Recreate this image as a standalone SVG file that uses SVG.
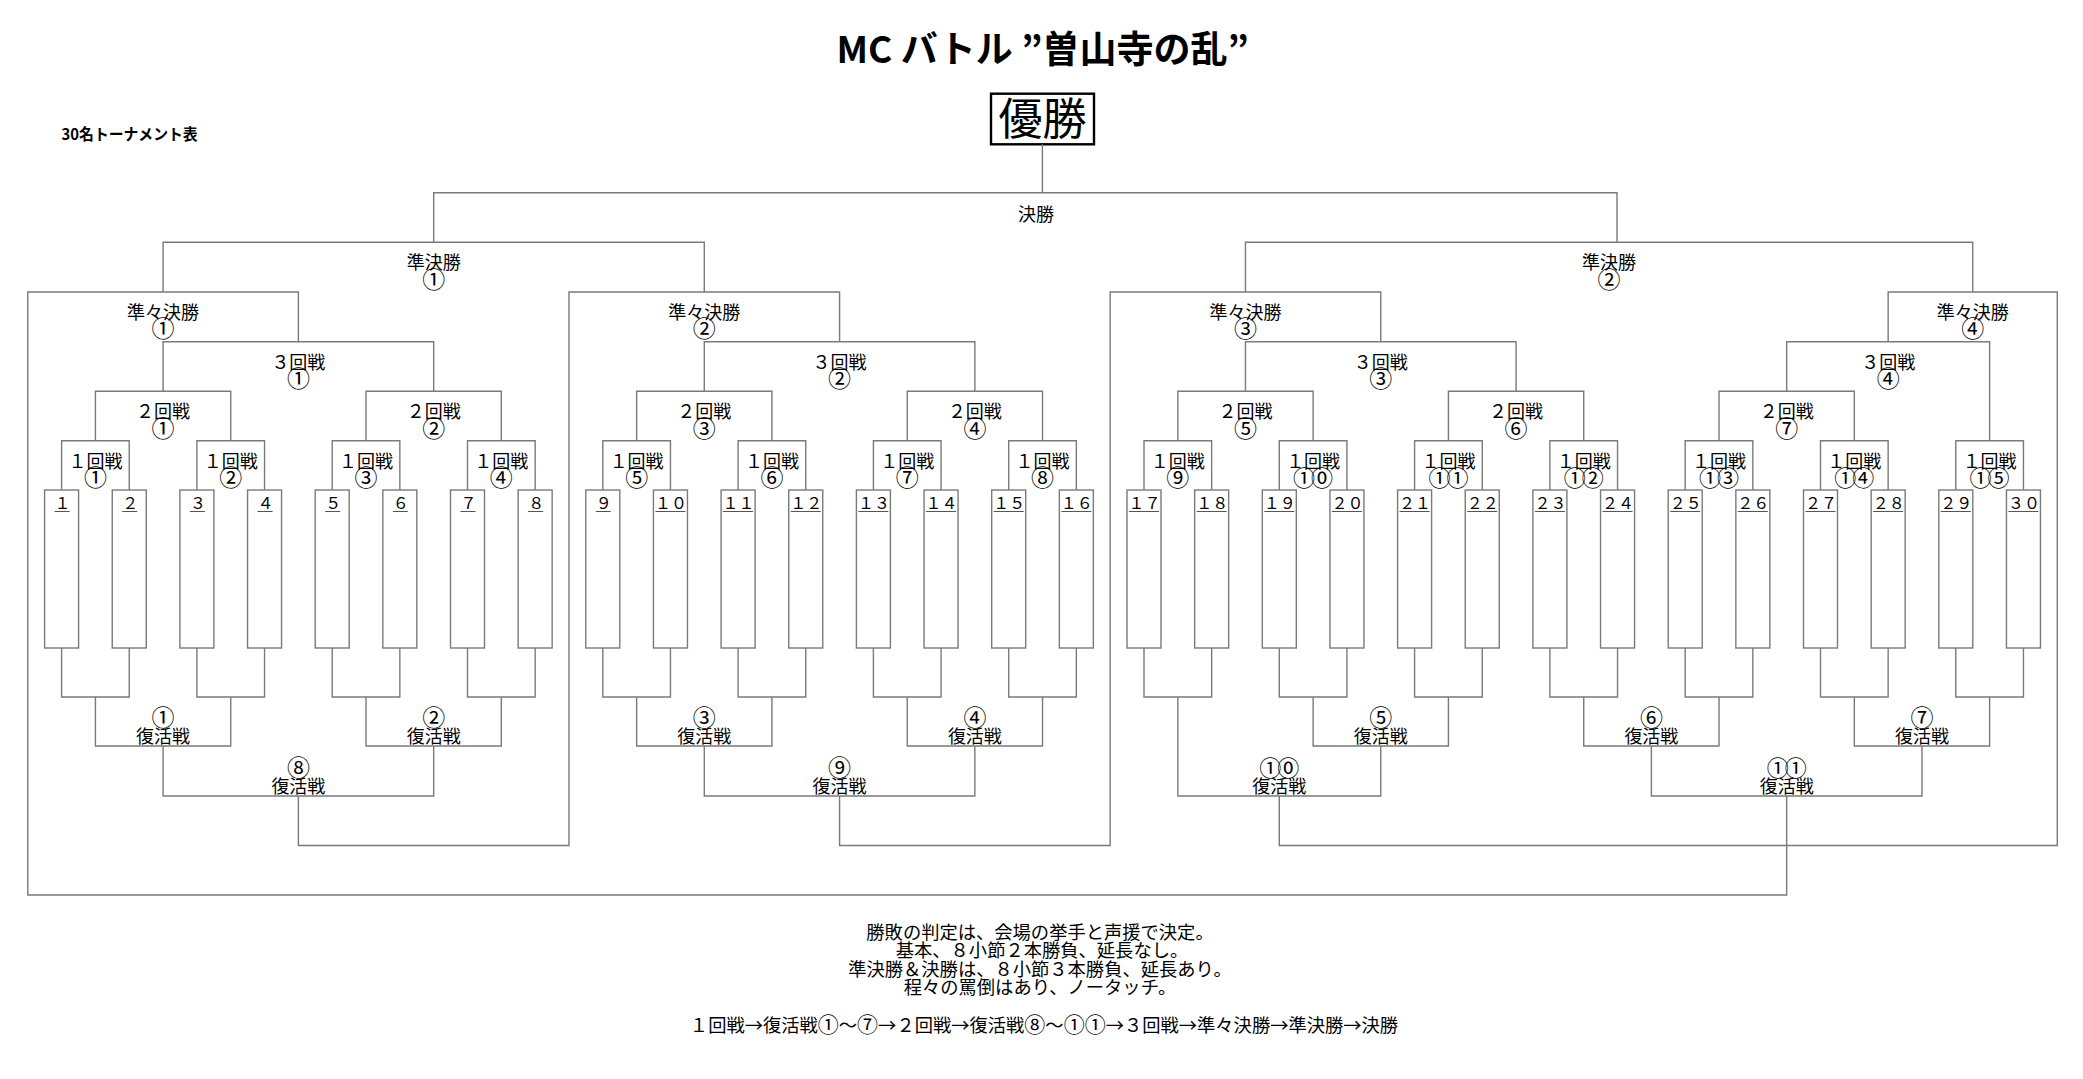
<svg xmlns="http://www.w3.org/2000/svg" width="2083" height="1079" viewBox="0 0 2083 1079">
<style>
.ln{fill:none;stroke:#7a7a7a;stroke-width:1.4}
.box{fill:#fff;stroke:#7a7a7a;stroke-width:1.4}
.ul{stroke:#555;stroke-width:1}
text{font-family:"Noto Sans CJK JP","Noto Sans",sans-serif;fill:#000}
.lb{font-size:18px;text-anchor:middle}
.cn{font-size:23px}
.cd{font-size:22px;letter-spacing:-4px}
.cs{font-size:21px}
.num{font-size:16px;text-anchor:middle}
.note{font-size:18.3px;text-anchor:middle}
</style>
<rect width="2083" height="1079" fill="#fff"/>
<g id="title"><text x="1042.6" y="63" font-size="37" font-weight="700" text-anchor="middle">MC バトル ”曽山寺の乱”</text></g>
<g id="subtitle"><text x="61.6" y="140" font-size="15.5" font-weight="700" textLength="136" lengthAdjust="spacingAndGlyphs">30名トーナメント表</text></g>
<g id="champion"><rect x="991" y="93.7" width="103" height="50.6" fill="#fff" stroke="#000" stroke-width="2.4"/><text x="1042.5" y="135" font-size="44" text-anchor="middle">優勝</text></g>

<g id="connectors" class="ln">
<path d="M61.6 490V440.7H129.25V490M196.9 490V440.7H264.55V490M332.2 490V440.7H399.85V490M467.5 490V440.7H535.15V490M602.8 490V440.7H670.45V490M738.1 490V440.7H805.75V490M873.4 490V440.7H941.05V490M1008.7 490V440.7H1076.35V490M1144 490V440.7H1211.65V490M1279.3 490V440.7H1346.95V490M1414.6 490V440.7H1482.25V490M1549.9 490V440.7H1617.55V490M1685.2 490V440.7H1752.85V490M1820.5 490V440.7H1888.15V490M1955.8 490V440.7H2023.45V490"/>
<path d="M95.43 440.7V391.3H230.73V440.7M366.03 440.7V391.3H501.33V440.7M636.63 440.7V391.3H771.93V440.7M907.23 440.7V391.3H1042.53V440.7M1177.83 440.7V391.3H1313.13V440.7M1448.43 440.7V391.3H1583.73V440.7M1719.03 440.7V391.3H1854.33V440.7"/>
<path d="M163.08 391.3V341.7H433.68V391.3M704.28 391.3V341.7H974.88V391.3M1245.48 391.3V341.7H1516.08V391.3M1786.68 391.3V341.7H1989.63V440.7"/>
<path d="M1786.68 796V895H27.8V292H298.38V341.7"/>
<path d="M298.38 796V845.5H568.97V292H839.58V341.7"/>
<path d="M839.58 796V845.5H1110.17V292H1380.78V341.7"/>
<path d="M1279.3 796V845.5H2057.28V292H1888.16V341.7"/>
<path d="M163.09 292V242.3H704.28V292M1245.48 292V242.3H1972.72V292"/>
<path d="M433.68 242.3V192.7H1617V242.3M1042.4 144.3V192.7"/>
<path d="M61.6 648V697H129.25V648M196.9 648V697H264.55V648M332.2 648V697H399.85V648M467.5 648V697H535.15V648M602.8 648V697H670.45V648M738.1 648V697H805.75V648M873.4 648V697H941.05V648M1008.7 648V697H1076.35V648M1144 648V697H1211.65V648M1279.3 648V697H1346.95V648M1414.6 648V697H1482.25V648M1549.9 648V697H1617.55V648M1685.2 648V697H1752.85V648M1820.5 648V697H1888.15V648M1955.8 648V697H2023.45V648"/>
<path d="M95.43 697V746H230.73V697M366.03 697V746H501.33V697M636.63 697V746H771.93V697M907.23 697V746H1042.53V697M1313.13 697V746H1448.43V697M1583.73 697V746H1719.03V697M1854.33 697V746H1989.63V697"/>
<path d="M163.08 746V796H433.68V746M704.28 746V796H974.88V746M1177.83 697V796H1380.78V746M1651.38 746V796H1921.98V746"/>
</g>

<g id="players">
<g id="p1"><rect class="box" x="44.6" y="490" width="34" height="158"/><text class="num" x="62.6" y="508.5">１</text><line class="ul" x1="54.6" y1="511.5" x2="69.6" y2="511.5"/></g>
<g id="p2"><rect class="box" x="112.25" y="490" width="34" height="158"/><text class="num" x="130.25" y="508.5">２</text><line class="ul" x1="122.25" y1="511.5" x2="137.25" y2="511.5"/></g>
<g id="p3"><rect class="box" x="179.9" y="490" width="34" height="158"/><text class="num" x="197.9" y="508.5">３</text><line class="ul" x1="189.9" y1="511.5" x2="204.9" y2="511.5"/></g>
<g id="p4"><rect class="box" x="247.55" y="490" width="34" height="158"/><text class="num" x="265.55" y="508.5">４</text><line class="ul" x1="257.55" y1="511.5" x2="272.55" y2="511.5"/></g>
<g id="p5"><rect class="box" x="315.2" y="490" width="34" height="158"/><text class="num" x="333.2" y="508.5">５</text><line class="ul" x1="325.2" y1="511.5" x2="340.2" y2="511.5"/></g>
<g id="p6"><rect class="box" x="382.85" y="490" width="34" height="158"/><text class="num" x="400.85" y="508.5">６</text><line class="ul" x1="392.85" y1="511.5" x2="407.85" y2="511.5"/></g>
<g id="p7"><rect class="box" x="450.5" y="490" width="34" height="158"/><text class="num" x="468.5" y="508.5">７</text><line class="ul" x1="460.5" y1="511.5" x2="475.5" y2="511.5"/></g>
<g id="p8"><rect class="box" x="518.15" y="490" width="34" height="158"/><text class="num" x="536.15" y="508.5">８</text><line class="ul" x1="528.15" y1="511.5" x2="543.15" y2="511.5"/></g>
<g id="p9"><rect class="box" x="585.8" y="490" width="34" height="158"/><text class="num" x="603.8" y="508.5">９</text><line class="ul" x1="595.8" y1="511.5" x2="610.8" y2="511.5"/></g>
<g id="p10"><rect class="box" x="653.45" y="490" width="34" height="158"/><text class="num" x="670.95" y="508.5">１０</text><line class="ul" x1="655.45" y1="511.5" x2="685.45" y2="511.5"/></g>
<g id="p11"><rect class="box" x="721.1" y="490" width="34" height="158"/><text class="num" x="738.6" y="508.5">１１</text><line class="ul" x1="723.1" y1="511.5" x2="753.1" y2="511.5"/></g>
<g id="p12"><rect class="box" x="788.75" y="490" width="34" height="158"/><text class="num" x="806.25" y="508.5">１２</text><line class="ul" x1="790.75" y1="511.5" x2="820.75" y2="511.5"/></g>
<g id="p13"><rect class="box" x="856.4" y="490" width="34" height="158"/><text class="num" x="873.9" y="508.5">１３</text><line class="ul" x1="858.4" y1="511.5" x2="888.4" y2="511.5"/></g>
<g id="p14"><rect class="box" x="924.05" y="490" width="34" height="158"/><text class="num" x="941.55" y="508.5">１４</text><line class="ul" x1="926.05" y1="511.5" x2="956.05" y2="511.5"/></g>
<g id="p15"><rect class="box" x="991.7" y="490" width="34" height="158"/><text class="num" x="1009.2" y="508.5">１５</text><line class="ul" x1="993.7" y1="511.5" x2="1023.7" y2="511.5"/></g>
<g id="p16"><rect class="box" x="1059.35" y="490" width="34" height="158"/><text class="num" x="1076.85" y="508.5">１６</text><line class="ul" x1="1061.35" y1="511.5" x2="1091.35" y2="511.5"/></g>
<g id="p17"><rect class="box" x="1127" y="490" width="34" height="158"/><text class="num" x="1144.5" y="508.5">１７</text><line class="ul" x1="1129" y1="511.5" x2="1159" y2="511.5"/></g>
<g id="p18"><rect class="box" x="1194.65" y="490" width="34" height="158"/><text class="num" x="1212.15" y="508.5">１８</text><line class="ul" x1="1196.65" y1="511.5" x2="1226.65" y2="511.5"/></g>
<g id="p19"><rect class="box" x="1262.3" y="490" width="34" height="158"/><text class="num" x="1279.8" y="508.5">１９</text><line class="ul" x1="1264.3" y1="511.5" x2="1294.3" y2="511.5"/></g>
<g id="p20"><rect class="box" x="1329.95" y="490" width="34" height="158"/><text class="num" x="1347.45" y="508.5">２０</text><line class="ul" x1="1331.95" y1="511.5" x2="1361.95" y2="511.5"/></g>
<g id="p21"><rect class="box" x="1397.6" y="490" width="34" height="158"/><text class="num" x="1415.1" y="508.5">２１</text><line class="ul" x1="1399.6" y1="511.5" x2="1429.6" y2="511.5"/></g>
<g id="p22"><rect class="box" x="1465.25" y="490" width="34" height="158"/><text class="num" x="1482.75" y="508.5">２２</text><line class="ul" x1="1467.25" y1="511.5" x2="1497.25" y2="511.5"/></g>
<g id="p23"><rect class="box" x="1532.9" y="490" width="34" height="158"/><text class="num" x="1550.4" y="508.5">２３</text><line class="ul" x1="1534.9" y1="511.5" x2="1564.9" y2="511.5"/></g>
<g id="p24"><rect class="box" x="1600.55" y="490" width="34" height="158"/><text class="num" x="1618.05" y="508.5">２４</text><line class="ul" x1="1602.55" y1="511.5" x2="1632.55" y2="511.5"/></g>
<g id="p25"><rect class="box" x="1668.2" y="490" width="34" height="158"/><text class="num" x="1685.7" y="508.5">２５</text><line class="ul" x1="1670.2" y1="511.5" x2="1700.2" y2="511.5"/></g>
<g id="p26"><rect class="box" x="1735.85" y="490" width="34" height="158"/><text class="num" x="1753.35" y="508.5">２６</text><line class="ul" x1="1737.85" y1="511.5" x2="1767.85" y2="511.5"/></g>
<g id="p27"><rect class="box" x="1803.5" y="490" width="34" height="158"/><text class="num" x="1821" y="508.5">２７</text><line class="ul" x1="1805.5" y1="511.5" x2="1835.5" y2="511.5"/></g>
<g id="p28"><rect class="box" x="1871.15" y="490" width="34" height="158"/><text class="num" x="1888.65" y="508.5">２８</text><line class="ul" x1="1873.15" y1="511.5" x2="1903.15" y2="511.5"/></g>
<g id="p29"><rect class="box" x="1938.8" y="490" width="34" height="158"/><text class="num" x="1956.3" y="508.5">２９</text><line class="ul" x1="1940.8" y1="511.5" x2="1970.8" y2="511.5"/></g>
<g id="p30"><rect class="box" x="2006.45" y="490" width="34" height="158"/><text class="num" x="2023.95" y="508.5">３０</text><line class="ul" x1="2008.45" y1="511.5" x2="2038.45" y2="511.5"/></g>
</g>

<g id="round1">
<g id="r1-1"><text class="lb" x="95.43" y="467.7">１回戦<tspan class="cn" x="95.43" dy="18.3">①</tspan></text></g>
<g id="r1-2"><text class="lb" x="230.73" y="467.7">１回戦<tspan class="cn" x="230.73" dy="18.3">②</tspan></text></g>
<g id="r1-3"><text class="lb" x="366.03" y="467.7">１回戦<tspan class="cn" x="366.03" dy="18.3">③</tspan></text></g>
<g id="r1-4"><text class="lb" x="501.33" y="467.7">１回戦<tspan class="cn" x="501.33" dy="18.3">④</tspan></text></g>
<g id="r1-5"><text class="lb" x="636.63" y="467.7">１回戦<tspan class="cn" x="636.63" dy="18.3">⑤</tspan></text></g>
<g id="r1-6"><text class="lb" x="771.93" y="467.7">１回戦<tspan class="cn" x="771.93" dy="18.3">⑥</tspan></text></g>
<g id="r1-7"><text class="lb" x="907.23" y="467.7">１回戦<tspan class="cn" x="907.23" dy="18.3">⑦</tspan></text></g>
<g id="r1-8"><text class="lb" x="1042.53" y="467.7">１回戦<tspan class="cn" x="1042.53" dy="18.3">⑧</tspan></text></g>
<g id="r1-9"><text class="lb" x="1177.83" y="467.7">１回戦<tspan class="cn" x="1177.83" dy="18.3">⑨</tspan></text></g>
<g id="r1-10"><text class="lb" x="1313.13" y="467.7">１回戦<tspan class="cd" x="1311.13" dy="18.3">①⓪</tspan></text></g>
<g id="r1-11"><text class="lb" x="1448.43" y="467.7">１回戦<tspan class="cd" x="1446.43" dy="18.3">①①</tspan></text></g>
<g id="r1-12"><text class="lb" x="1583.73" y="467.7">１回戦<tspan class="cd" x="1581.73" dy="18.3">①②</tspan></text></g>
<g id="r1-13"><text class="lb" x="1719.03" y="467.7">１回戦<tspan class="cd" x="1717.03" dy="18.3">①③</tspan></text></g>
<g id="r1-14"><text class="lb" x="1854.33" y="467.7">１回戦<tspan class="cd" x="1852.33" dy="18.3">①④</tspan></text></g>
<g id="r1-15"><text class="lb" x="1989.63" y="467.7">１回戦<tspan class="cd" x="1987.63" dy="18.3">①⑤</tspan></text></g>
</g>

<g id="round2">
<g id="r2-1"><text class="lb" x="163.08" y="418.3">２回戦<tspan class="cn" x="163.08" dy="18.3">①</tspan></text></g>
<g id="r2-2"><text class="lb" x="433.68" y="418.3">２回戦<tspan class="cn" x="433.68" dy="18.3">②</tspan></text></g>
<g id="r2-3"><text class="lb" x="704.28" y="418.3">２回戦<tspan class="cn" x="704.28" dy="18.3">③</tspan></text></g>
<g id="r2-4"><text class="lb" x="974.88" y="418.3">２回戦<tspan class="cn" x="974.88" dy="18.3">④</tspan></text></g>
<g id="r2-5"><text class="lb" x="1245.48" y="418.3">２回戦<tspan class="cn" x="1245.48" dy="18.3">⑤</tspan></text></g>
<g id="r2-6"><text class="lb" x="1516.08" y="418.3">２回戦<tspan class="cn" x="1516.08" dy="18.3">⑥</tspan></text></g>
<g id="r2-7"><text class="lb" x="1786.68" y="418.3">２回戦<tspan class="cn" x="1786.68" dy="18.3">⑦</tspan></text></g>
</g>

<g id="round3">
<g id="r3-1"><text class="lb" x="298.38" y="368.7">３回戦<tspan class="cn" x="298.38" dy="18.3">①</tspan></text></g>
<g id="r3-2"><text class="lb" x="839.58" y="368.7">３回戦<tspan class="cn" x="839.58" dy="18.3">②</tspan></text></g>
<g id="r3-3"><text class="lb" x="1380.78" y="368.7">３回戦<tspan class="cn" x="1380.78" dy="18.3">③</tspan></text></g>
<g id="r3-4"><text class="lb" x="1888.16" y="368.7">３回戦<tspan class="cn" x="1888.16" dy="18.3">④</tspan></text></g>
</g>

<g id="quarter">
<g id="qf-1"><text class="lb" x="163.09" y="319">準々決勝<tspan class="cn" x="163.09" dy="18.3">①</tspan></text></g>
<g id="qf-2"><text class="lb" x="704.28" y="319">準々決勝<tspan class="cn" x="704.28" dy="18.3">②</tspan></text></g>
<g id="qf-3"><text class="lb" x="1245.48" y="319">準々決勝<tspan class="cn" x="1245.48" dy="18.3">③</tspan></text></g>
<g id="qf-4"><text class="lb" x="1972.72" y="319">準々決勝<tspan class="cn" x="1972.72" dy="18.3">④</tspan></text></g>
</g>

<g id="semi">
<g id="sf-1"><text class="lb" x="433.68" y="269.3">準決勝<tspan class="cn" x="433.68" dy="18.3">①</tspan></text></g>
<g id="sf-2"><text class="lb" x="1609" y="269.3">準決勝<tspan class="cn" x="1609" dy="18.3">②</tspan></text></g>
</g>

<g id="final"><text class="lb" x="1036" y="221">決勝</text></g>

<g id="revival">
<g id="rv-1"><text class="lb" x="163.08" y="726"><tspan class="cn">①</tspan><tspan x="163.08" dy="17">復活戦</tspan></text></g>
<g id="rv-2"><text class="lb" x="433.68" y="726"><tspan class="cn">②</tspan><tspan x="433.68" dy="17">復活戦</tspan></text></g>
<g id="rv-3"><text class="lb" x="704.28" y="726"><tspan class="cn">③</tspan><tspan x="704.28" dy="17">復活戦</tspan></text></g>
<g id="rv-4"><text class="lb" x="974.88" y="726"><tspan class="cn">④</tspan><tspan x="974.88" dy="17">復活戦</tspan></text></g>
<g id="rv-5"><text class="lb" x="1380.78" y="726"><tspan class="cn">⑤</tspan><tspan x="1380.78" dy="17">復活戦</tspan></text></g>
<g id="rv-6"><text class="lb" x="1651.38" y="726"><tspan class="cn">⑥</tspan><tspan x="1651.38" dy="17">復活戦</tspan></text></g>
<g id="rv-7"><text class="lb" x="1921.98" y="726"><tspan class="cn">⑦</tspan><tspan x="1921.98" dy="17">復活戦</tspan></text></g>
<g id="rv-8"><text class="lb" x="298.38" y="776"><tspan class="cn">⑧</tspan><tspan x="298.38" dy="17">復活戦</tspan></text></g>
<g id="rv-9"><text class="lb" x="839.58" y="776"><tspan class="cn">⑨</tspan><tspan x="839.58" dy="17">復活戦</tspan></text></g>
<g id="rv-10"><text class="lb" x="1277.3" y="776"><tspan class="cd">①⓪</tspan><tspan x="1279.3" dy="17">復活戦</tspan></text></g>
<g id="rv-11"><text class="lb" x="1784.68" y="776"><tspan class="cd">①①</tspan><tspan x="1786.68" dy="17">復活戦</tspan></text></g>
</g>

<g id="notes">
<text class="note" x="1040" y="939">勝敗の判定は、会場の挙手と声援で決定。</text>
<text class="note" x="1042" y="957">基本、８小節２本勝負、延長なし。</text>
<text class="note" x="1040" y="975.5">準決勝＆決勝は、８小節３本勝負、延長あり。</text>
<text class="note" x="1040" y="994">程々の罵倒はあり、ノータッチ。</text>
<text class="note" x="1044" y="1032">１回戦→復活戦<tspan class="cs">①</tspan>～<tspan class="cs">⑦</tspan>→２回戦→復活戦<tspan class="cs">⑧</tspan>～<tspan class="cs">①①</tspan>→３回戦→準々決勝→準決勝→決勝</text>
</g>
</svg>
